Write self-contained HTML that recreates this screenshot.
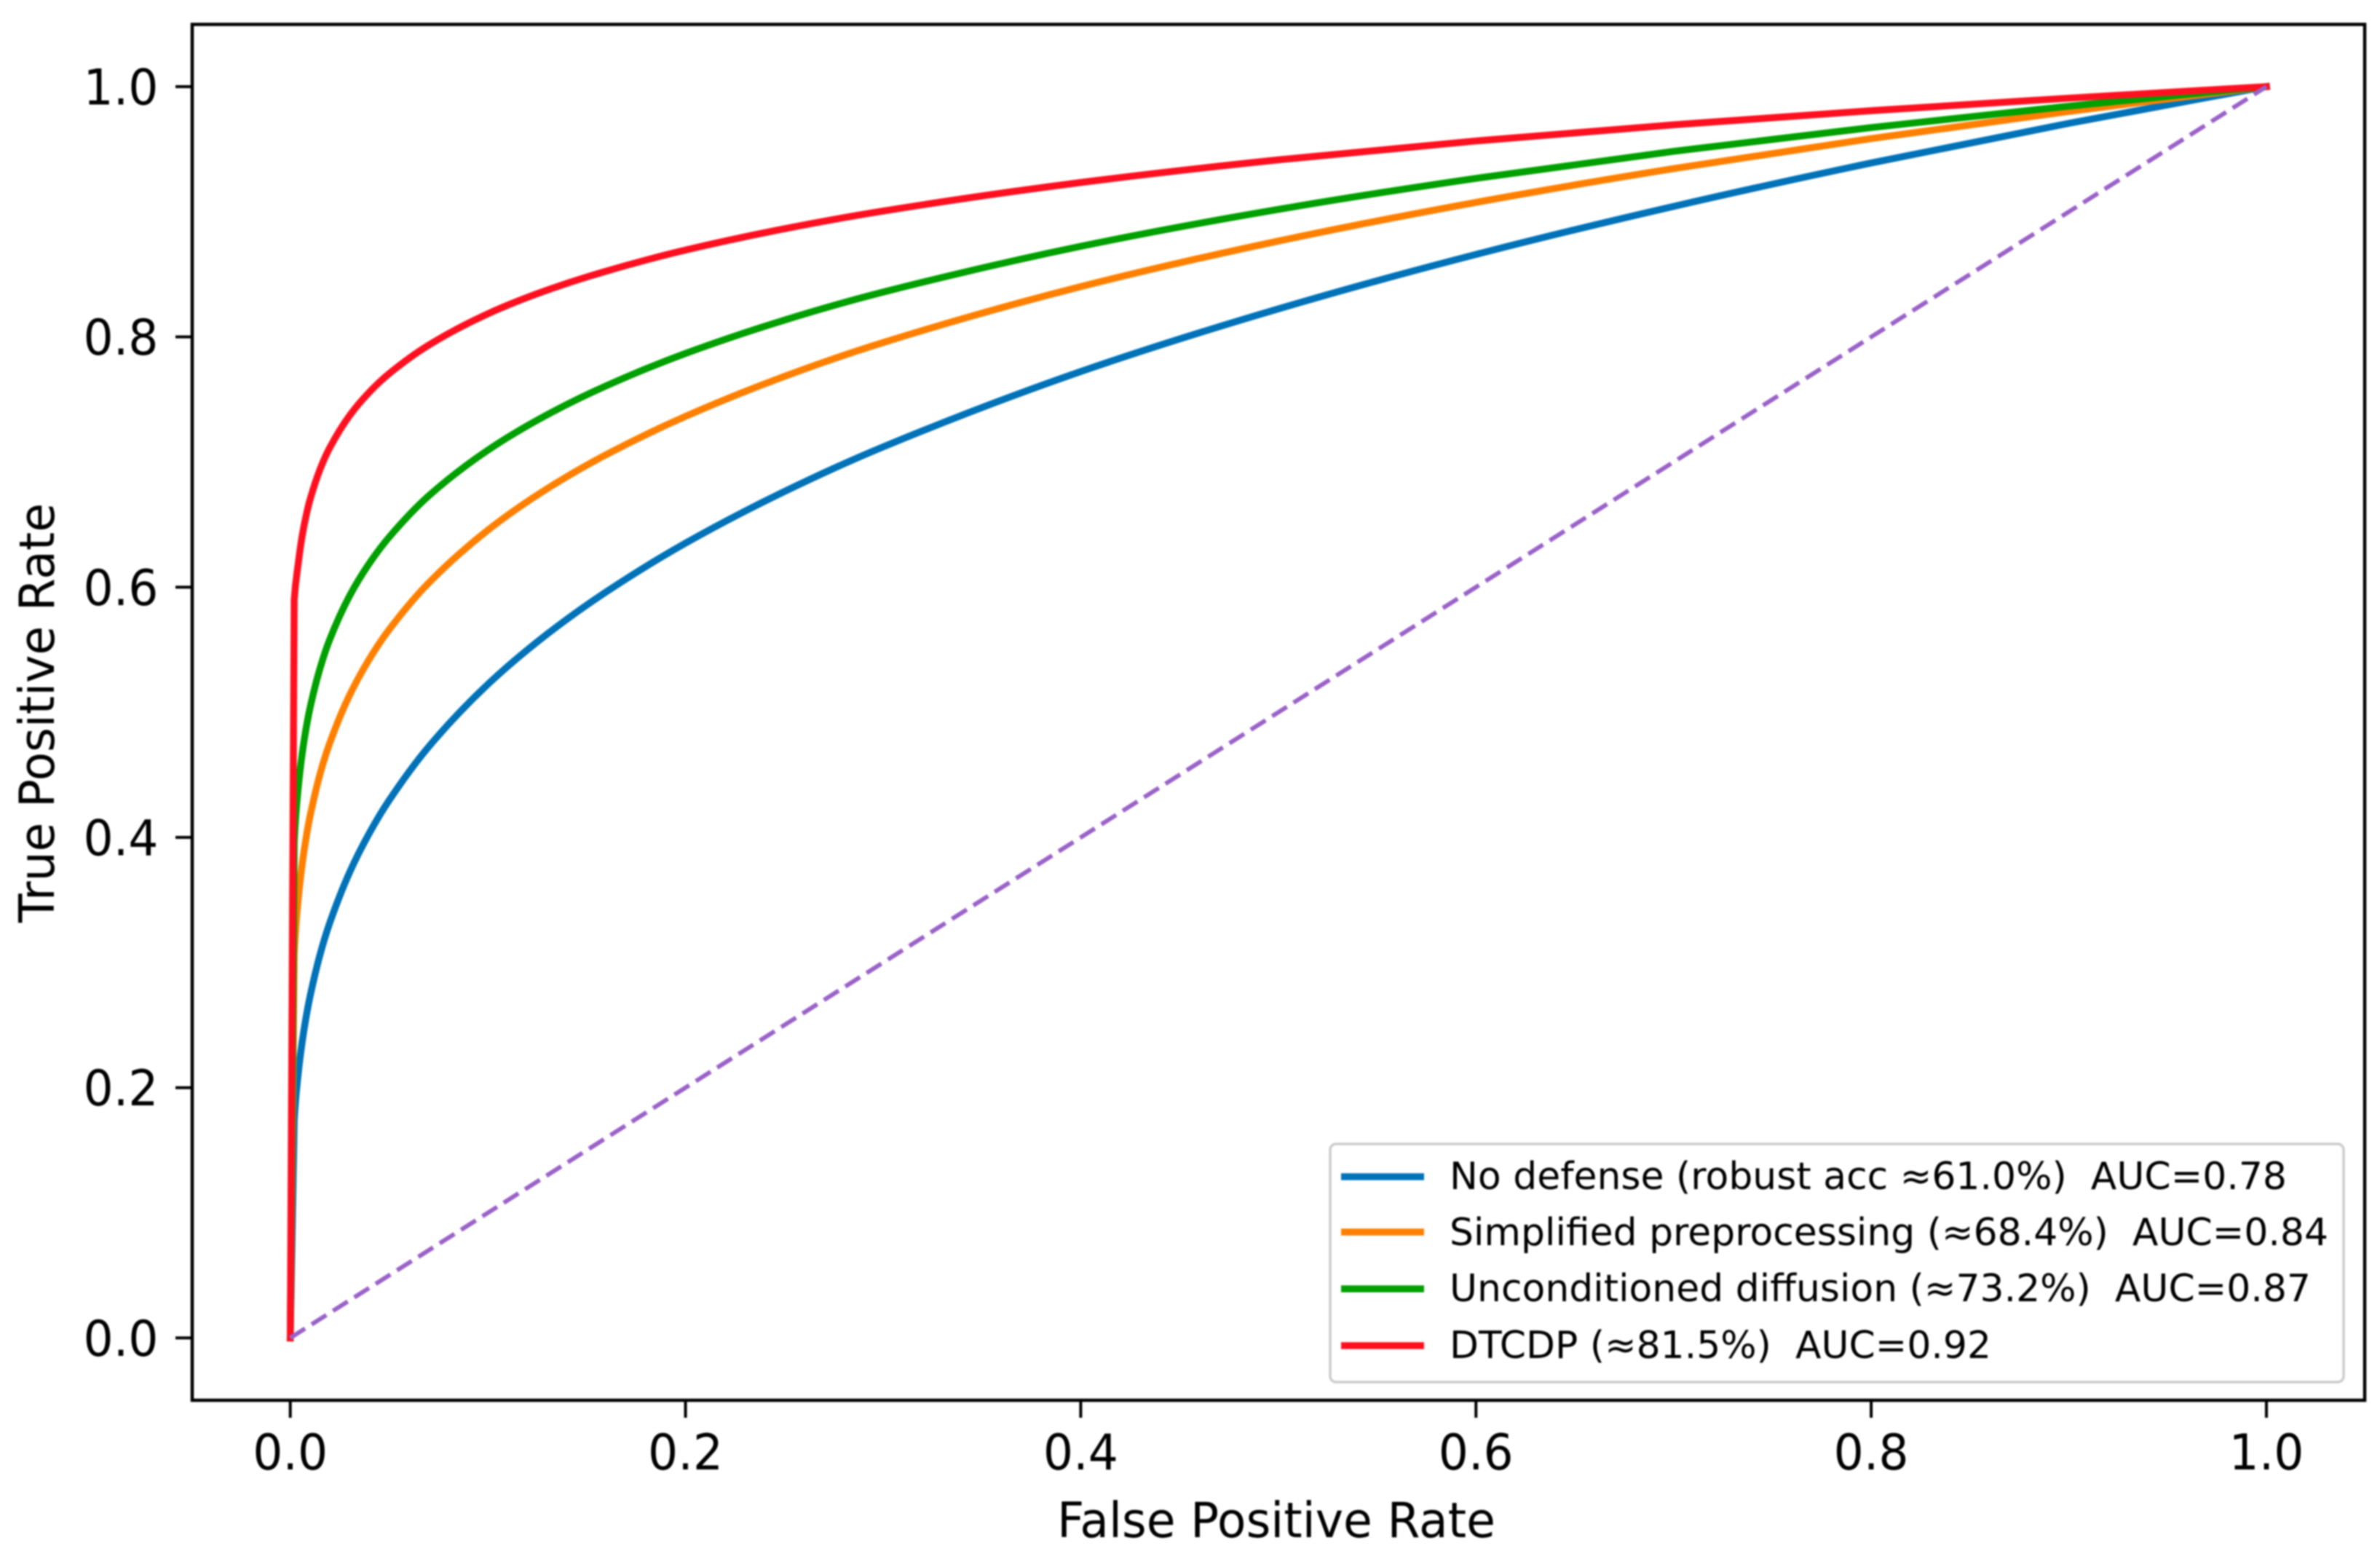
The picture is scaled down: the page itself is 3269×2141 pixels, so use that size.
<!DOCTYPE html>
<html lang="en">
<head>
<meta charset="utf-8">
<title>ROC curves</title>
<style>
html,body{margin:0;padding:0;background:#fff;width:3269px;height:2141px;overflow:hidden}
svg{display:block;filter:blur(1px)}
text{font-family:"DejaVu Sans","Liberation Sans",sans-serif;fill:#000;white-space:pre}
</style>
</head>
<body>
<svg id="chart" xmlns="http://www.w3.org/2000/svg" width="3269" height="2141" viewBox="0 0 3269 2141">
  <rect x="0" y="0" width="3269" height="2141" fill="#fff"/>
  <g id="series" fill="none"></g>
  <g id="ticks"></g>
  <rect x="264" y="33.5" width="2984" height="1889.5" fill="none" stroke="#000" stroke-width="4.5"/>
  <text x="1753" y="2111" font-size="67" text-anchor="middle" textLength="602" lengthAdjust="spacingAndGlyphs">False Positive Rate</text>
  <text transform="translate(74,979) rotate(-90)" font-size="67" text-anchor="middle" textLength="576" lengthAdjust="spacingAndGlyphs">True Positive Rate</text>
  <g>
    <rect x="1827" y="1571" width="1392" height="327" rx="8" ry="8" fill="#fff" stroke="#ccc" stroke-width="3.5"/>
    <line x1="1842" x2="1956" y1="1616" y2="1616" stroke="#0072b8" stroke-width="9.5"/>
    <text x="1991" y="1633" font-size="52" textLength="1150" lengthAdjust="spacingAndGlyphs">No defense (robust acc ≈61.0%)  AUC=0.78</text>
    <line x1="1842" x2="1956" y1="1692" y2="1692" stroke="#ff8000" stroke-width="9.5"/>
    <text x="1991" y="1710" font-size="52" textLength="1207" lengthAdjust="spacingAndGlyphs">Simplified preprocessing (≈68.4%)  AUC=0.84</text>
    <line x1="1842" x2="1956" y1="1770" y2="1770" stroke="#00a000" stroke-width="9.5"/>
    <text x="1991" y="1787" font-size="52" textLength="1183" lengthAdjust="spacingAndGlyphs">Unconditioned diffusion (≈73.2%)  AUC=0.87</text>
    <line x1="1842" x2="1956" y1="1848" y2="1848" stroke="#ff1020" stroke-width="9.5"/>
    <text x="1991" y="1865" font-size="52" textLength="744" lengthAdjust="spacingAndGlyphs">DTCDP (≈81.5%)  AUC=0.92</text>
  </g>
</svg>
<script>
const fpr = [0,0.002,0.004,0.006,0.008,0.01,0.015,0.02,0.03,0.04,0.05,0.07,0.1,0.13,0.16,0.2,0.25,0.3,0.4,0.5,0.6,0.7,0.8,0.9,1];
const tprNoDefense = [0,0.1733,0.2108,0.2363,0.2563,0.2729,0.3060,0.3318,0.3720,0.4034,0.4296,0.4724,0.5224,0.5625,0.5964,0.6352,0.6764,0.7121,0.7723,0.8224,0.8659,0.9043,0.9390,0.9707,1];
const tprSimplified = [0,0.3070,0.3503,0.3783,0.3996,0.4169,0.4503,0.4755,0.5136,0.5425,0.5660,0.6033,0.6456,0.6787,0.7060,0.7365,0.7684,0.7955,0.8402,0.8766,0.9075,0.9345,0.9585,0.9802,1];
const tprUnconditioned = [0,0.3961,0.4392,0.4666,0.4870,0.5035,0.5348,0.5583,0.5930,0.6190,0.6399,0.6729,0.7095,0.7378,0.7610,0.7868,0.8134,0.8358,0.8724,0.9019,0.9267,0.9483,0.9673,0.9844,1];
const tprDtcdp = [0,0.5900,0.6185,0.6408,0.6570,0.6699,0.6939,0.7115,0.7371,0.7558,0.7706,0.7934,0.8185,0.8374,0.8526,0.8694,0.8864,0.9006,0.9234,0.9415,0.9566,0.9695,0.9808,0.9908,1];
const chanceFpr = [0,1];
const chanceTpr = [0,1];
const xTickValues = [0,0.2,0.4,0.6,0.8,1];
const yTickValues = [0,0.2,0.4,0.6,0.8,1];
const xTickLabels = ["0.0","0.2","0.4","0.6","0.8","1.0"];
const yTickLabels = ["0.0","0.2","0.4","0.6","0.8","1.0"];

const NS = "http://www.w3.org/2000/svg";
function xScale(v){ return 398.7 + v * 2714.3; }
function yScale(v){ return 1837.4 - v * 1718.4; }

// Smooth monotone path: straight first segment, then cubic through the samples.
function curvePath(xs, ys){
  const px = xs.map(xScale), py = ys.map(yScale), n = px.length;
  const sec = [];
  for (let i = 0; i < n - 1; i++) sec.push((py[i+1] - py[i]) / (px[i+1] - px[i]));
  const tan = new Array(n).fill(0);
  tan[1] = sec[1]; tan[n-1] = sec[n-2];
  for (let i = 2; i < n - 1; i++) {
    tan[i] = sec[i-1] * sec[i] > 0 ? 2 * sec[i-1] * sec[i] / (sec[i-1] + sec[i]) : 0;
  }
  tan[1] = sec[1] * 1.6;
  let d = "M" + px[0].toFixed(2) + " " + py[0].toFixed(2) + "L" + px[1].toFixed(2) + " " + py[1].toFixed(2);
  for (let i = 1; i < n - 1; i++) {
    const h = (px[i+1] - px[i]) / 3;
    d += "C" + (px[i] + h).toFixed(2) + " " + (py[i] + h * tan[i]).toFixed(2) + " " +
         (px[i+1] - h).toFixed(2) + " " + (py[i+1] - h * tan[i+1]).toFixed(2) + " " +
         px[i+1].toFixed(2) + " " + py[i+1].toFixed(2);
  }
  return d;
}

const seriesLayer = document.getElementById("series");
const tickLayer = document.getElementById("ticks");

const curveNoDefense = document.createElementNS(NS, "path");


curveNoDefense.setAttribute("d", curvePath(fpr, tprNoDefense));
curveNoDefense.setAttribute("stroke", "#0072b8");
seriesLayer.appendChild(curveNoDefense);

const curveSimplified = document.createElementNS(NS, "path");


curveSimplified.setAttribute("d", curvePath(fpr, tprSimplified));
curveSimplified.setAttribute("stroke", "#ff8000");
seriesLayer.appendChild(curveSimplified);

const curveUnconditioned = document.createElementNS(NS, "path");


curveUnconditioned.setAttribute("d", curvePath(fpr, tprUnconditioned));
curveUnconditioned.setAttribute("stroke", "#00a000");
seriesLayer.appendChild(curveUnconditioned);

const curveDtcdp = document.createElementNS(NS, "path");


curveDtcdp.setAttribute("d", curvePath(fpr, tprDtcdp));
curveDtcdp.setAttribute("stroke", "#ff1020");
seriesLayer.appendChild(curveDtcdp);

[curveNoDefense, curveSimplified, curveUnconditioned, curveDtcdp].forEach(function(p){
  p.setAttribute("stroke-width", "9.5");
  p.setAttribute("stroke-linecap", "square");
  p.setAttribute("stroke-linejoin", "round");
});

const chanceLine = document.createElementNS(NS, "line");


chanceLine.setAttribute("x1", xScale(chanceFpr[0]));
chanceLine.setAttribute("y1", yScale(chanceTpr[0]));
chanceLine.setAttribute("x2", xScale(chanceFpr[1]));
chanceLine.setAttribute("y2", yScale(chanceTpr[1]));
chanceLine.setAttribute("stroke", "#9a62c8");
chanceLine.setAttribute("stroke-width", "6");
chanceLine.setAttribute("stroke-dasharray", "24 10.7");
seriesLayer.appendChild(chanceLine);

xTickValues.forEach(function(v, i){
  const mark = document.createElementNS(NS, "line");
  
  
  mark.setAttribute("x1", xScale(v));
  mark.setAttribute("x2", xScale(v));
  mark.setAttribute("y1", 1923);
  mark.setAttribute("y2", 1947);
  mark.setAttribute("stroke", "#000");
  mark.setAttribute("stroke-width", "4");
  tickLayer.appendChild(mark);

  const label = document.createElementNS(NS, "text");
  
  
  label.setAttribute("x", xScale(v));
  label.setAttribute("y", 2018);
  label.setAttribute("font-size", "68");
  label.setAttribute("text-anchor", "middle");
  label.setAttribute("textLength", "103");
  label.setAttribute("lengthAdjust", "spacingAndGlyphs");
  label.textContent = xTickLabels[i];
  tickLayer.appendChild(label);
});

yTickValues.forEach(function(v, i){
  const mark = document.createElementNS(NS, "line");
  
  
  mark.setAttribute("x1", 241);
  mark.setAttribute("x2", 264);
  mark.setAttribute("y1", yScale(v));
  mark.setAttribute("y2", yScale(v));
  mark.setAttribute("stroke", "#000");
  mark.setAttribute("stroke-width", "4");
  tickLayer.appendChild(mark);

  const label = document.createElementNS(NS, "text");
  
  
  label.setAttribute("x", 217.5);
  label.setAttribute("y", yScale(v) + 24.5);
  label.setAttribute("font-size", "68");
  label.setAttribute("text-anchor", "end");
  label.setAttribute("textLength", "103");
  label.setAttribute("lengthAdjust", "spacingAndGlyphs");
  label.textContent = yTickLabels[i];
  tickLayer.appendChild(label);
});
</script>
</body>
</html>
